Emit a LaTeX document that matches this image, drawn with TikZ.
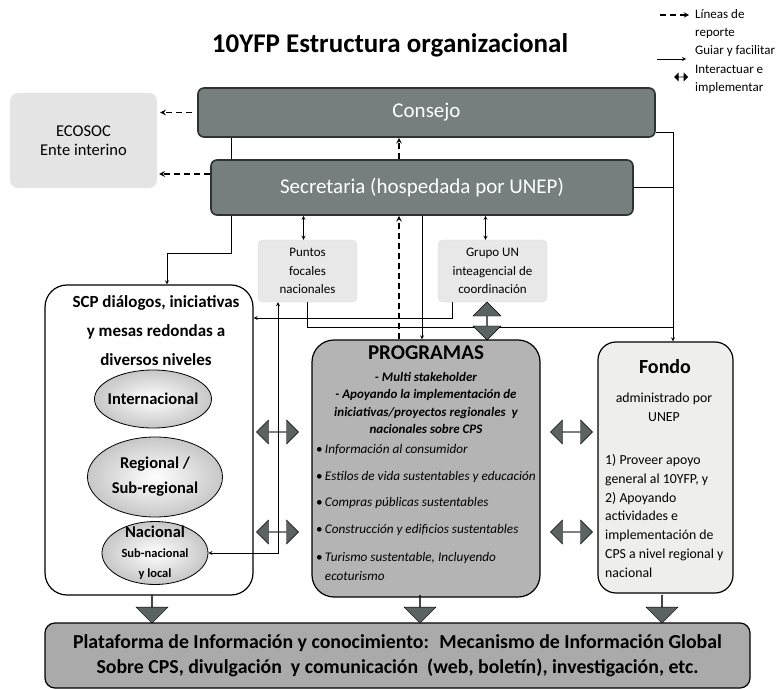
\documentclass[tikz,border=0pt]{standalone}
\usepackage{fontspec}
\setmainfont{Carlito}
\usepackage{xcolor}
\usepackage{tikz}
\usetikzlibrary{arrows, shapes.geometric, shapes.arrows, positioning, calc}

\definecolor{boardgray}{RGB}{118,127,125}
\definecolor{boardedge}{RGB}{45,50,50}
\definecolor{ecosocgray}{RGB}{228,228,228}
\definecolor{focalgray}{RGB}{232,232,232}
\definecolor{proggray}{RGB}{180,180,180}
\definecolor{fondogray}{RGB}{238,238,236}
\definecolor{platgray}{RGB}{170,170,170}
\definecolor{fatgray}{RGB}{90,99,97}

\begin{document}
\begin{tikzpicture}[x=1pt, y=-1pt, >=stealth,
    darkbox/.style={draw=boardedge, fill=boardgray, line width=1.6pt, rounded corners=6pt, text=white, font=\fontsize{21}{22}\selectfont},
    smallbox/.style={draw=black!15, fill=focalgray, rounded corners=5pt, align=center, font=\fontsize{13}{18.5}\selectfont},
    bigbox/.style={draw=black, line width=1.2pt, rounded corners=22pt},
    level/.style={ellipse, draw=black, thick, inner color=white, outer color=black!22, align=center, inner xsep=-30pt, inner ysep=-16pt},
    fatlr/.style={double arrow, draw=black, fill=fatgray, minimum height=42pt, minimum width=24pt, double arrow head extend=5pt, inner sep=0pt},
    fatdown/.style={single arrow, draw=black, fill=fatgray, minimum height=28pt, minimum width=32pt, single arrow head extend=8pt, shape border rotate=270, inner sep=0pt},
    bullet/.style={anchor=west, inner sep=0pt, align=left, font=\fontsize{13.2}{19}\selectfont},
    legtext/.style={anchor=west, inner sep=0pt, align=left, font=\fontsize{13}{18.5}\selectfont},
    guide/.style={->, thick},
    report/.style={->, line width=1.5pt, dash pattern=on 6pt off 4pt},
  ]
    \useasboundingbox (0,0) rectangle (780,690);

    % title and legend
    \node[font=\fontsize{27}{28}\selectfont\bfseries] (title) at (390,45) {10YFP Estructura organizacional};

    \coordinate (rep1) at (660,15);
    \coordinate (rep2) at (689,15);
    \coordinate (gui1) at (657,59);
    \coordinate (gui2) at (686,59);
    \draw[report, line width=1.3pt] (rep1) -- (rep2);
    \draw[guide] (gui1) -- (gui2);
    \node[double arrow, fill=black, minimum height=14pt, minimum width=9pt, double arrow head extend=2pt, inner sep=0pt] (legboth) at (681,77) {};
    \node[legtext] (legrep) at (695,24) {Líneas de\\reporte};
    \node[legtext] (leggui) at (695,51) {Guiar y facilitar};
    \node[legtext] (legint) at (695,79.5) {Interactuar e\\implementar};

    % top boxes
    \node[fill=ecosocgray, rounded corners=8pt, minimum width=147pt, minimum height=95pt, align=center, font=\fontsize{16.5}{19}\selectfont] (ecosoc) at (83.5,140.5) {ECOSOC\\Ente interino};
    \node[darkbox, minimum width=457pt, minimum height=49pt] (consejo) at (426.5,112.5) {Consejo};
    \node[darkbox, minimum width=422pt, minimum height=55pt] (secretaria) at (422,187.5) {Secretaria (hospedada por UNEP)};

    \node[smallbox, minimum width=99pt, minimum height=62pt] (puntos) at (307.5,271) {Puntos\\focales\\nacionales};
    \node[smallbox, minimum width=109pt, minimum height=62pt] (grupo) at (492.5,271) {Grupo UN\\inteagencial de\\coordinación};

    % SCP levels
    \node[bigbox, fill=white, minimum width=208pt, minimum height=310pt] (scp) at (149,440) {};
    \node[font=\fontsize{17}{29}\selectfont\bfseries, align=center] (scptitle) at (156,331) {SCP diálogos, iniciativas\\y mesas redondas a\\diversos niveles};
    \node[level, minimum width=117pt, minimum height=58pt, font=\fontsize{16.5}{17}\selectfont\bfseries] (internacional) at (153,399) {Internacional};
    \node[level, minimum width=135pt, minimum height=80pt, font=\fontsize{16.5}{25}\selectfont\bfseries] (regional) at (155,477) {Regional /\\Sub-regional};
    \node[level, minimum width=106pt, minimum height=63pt, font=\fontsize{12.5}{20}\selectfont\bfseries] (nacional) at (155,553) {{\fontsize{16.5}{17}\selectfont Nacional}\\Sub-nacional\\y local};

    % programas
    \node[bigbox, fill=proggray, minimum width=228pt, minimum height=257pt] (programas) at (426,468.5) {};
    \node[font=\fontsize{21}{22}\selectfont\bfseries] (progtitle) at (426,353) {PROGRAMAS};
    \node[font=\fontsize{13}{17.3}\selectfont\bfseries\itshape, align=center] (progsub) at (426,403) {- Multi stakeholder\\- Apoyando la implementación de\\iniciativas/proyectos regionales \ y\\nacionales sobre CPS};
    \node[bullet] (prog1) at (316,450) {\textbullet\,\textit{Información al consumidor}};
    \node[bullet] (prog2) at (316,477) {\textbullet\,\textit{Estilos de vida sustentables y educación}};
    \node[bullet] (prog3) at (316,503) {\textbullet\,\textit{Compras públicas sustentables}};
    \node[bullet] (prog4) at (316,530) {\textbullet\,\textit{Construcción y edificios sustentables}};
    \node[bullet] (prog5) at (316,566.5) {\textbullet\,\textit{Turismo sustentable, Incluyendo}\\\phantom{\textbullet\,}\textit{ecoturismo}};

    % fondo
    \node[bigbox, fill=fondogray, rounded corners=18pt, minimum width=135pt, minimum height=251pt] (fondo) at (665.5,467.5) {};
    \node[font=\fontsize{20}{22}\selectfont\bfseries] (fondotitle) at (665,367) {Fondo};
    \node[font=\fontsize{13.8}{19}\selectfont, align=center] (fondoadm) at (664,407.5) {administrado por\\UNEP};
    \node[font=\fontsize{13.8}{18.7}\selectfont, align=left, anchor=west, inner sep=0pt] (fondotxt) at (605,516) {1) Proveer apoyo\\general al 10YFP, y\\2) Apoyando\\actividades e\\implementación de\\CPS a nivel regional y\\nacional};

    % plataforma
    \node[bigbox, rounded corners=10pt, fill=platgray, minimum width=705pt, minimum height=65pt, align=center, font=\fontsize{19.8}{25}\selectfont\bfseries] (plataforma) at (397.5,655.5) {Plataforma de Información y conocimiento: \ Mecanismo de Información Global\\Sobre CPS, divulgación \ y comunicación \ (web, boletín), investigación, etc.};

    % reporting lines
    \coordinate (repx) at (399,0);
    \draw[report, shorten <=5pt, shorten >=3pt] (consejo.west) -- (consejo.west -| ecosoc.east);
    \draw[report, shorten >=2pt] ([yshift=13.5pt]secretaria.west) -- ([yshift=13.5pt]secretaria.west -| ecosoc.east);
    \draw[report] (repx |- programas.north) -- (repx |- secretaria.south);
    \draw[report] (repx |- secretaria.north) -- (repx |- consejo.south);

    % guiding lines
    \coordinate (leftx) at (231,0);
    \coordinate (rightx) at (673,0);
    \coordinate (junction) at (673,327);
    \coordinate (grupoy) at (0,318);
    \draw[thick] (leftx |- consejo.south) -- (leftx |- secretaria.north);
    \draw[guide] (leftx |- secretaria.south) -- ++(0,38) -| ([xshift=18pt]scp.north);
    \draw[thick] ([yshift=-19.5pt]consejo.east) -| (rightx |- secretaria.east);
    \draw[guide] (secretaria.east) -| (rightx |- fondo.north);
    \draw[guide] (secretaria.south) -- (secretaria.south |- programas.north);
    \draw[thick] (puntos.south) |- (junction);
    \draw[guide] ([xshift=-40.5pt]grupo.south) |- (scp.east |- grupoy);
    \draw[<->, thick] (nacional.east) -| ([xshift=-29.5pt]puntos.south);
    \draw[<->, thick] ([xshift=-4pt]puntos.north) -- ([xshift=-4pt]puntos.north |- secretaria.south);
    \draw[<->, thick] ([xshift=-7pt]grupo.north) -- ([xshift=-7pt]grupo.north |- secretaria.south);

    % interaction arrows
    \node[fatlr] (fatscp1) at (277.5,432) {};
    \node[fatlr] (fatscp2) at (277.5,532) {};
    \node[fatlr] (fatfondo1) at (571.5,432) {};
    \node[fatlr] (fatfondo2) at (571.5,532) {};
    \node[fatlr, shape border rotate=90, minimum height=38pt, minimum width=28pt] (fatgrupo) at (487,321) {};

    \node[fatdown] (downscp) at (152,609) {};
    \node[fatdown] (downprog) at (420,609) {};
    \node[fatdown] (downfondo) at (662,609) {};

  \end{tikzpicture}
\end{document}
